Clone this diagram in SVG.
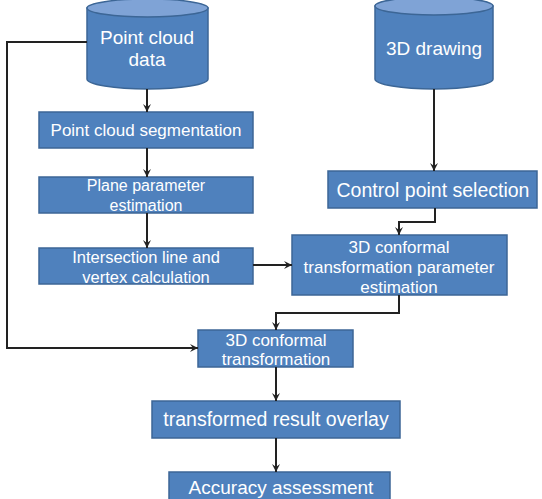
<svg xmlns="http://www.w3.org/2000/svg" width="542" height="499" viewBox="0 0 542 499">
<defs>
<marker id="ah" markerWidth="10" markerHeight="10" refX="9" refY="5" orient="auto" markerUnits="userSpaceOnUse">
<path d="M1,1 L9,5 L1,9 L4,5 Z" fill="#222"/>
</marker>
</defs>
<style>
.box{fill:#4f81bd;stroke:#3c6696;stroke-width:1.5}
.cyl{fill:#4f81bd;stroke:#3c6696;stroke-width:1.5}
.top{fill:#7fa3d6;stroke:#3c6696;stroke-width:1.5}
text{font-family:"Liberation Sans","DejaVu Sans",sans-serif;fill:#fff;text-anchor:middle}
.c{fill:none;stroke:#222;stroke-width:2;marker-end:url(#ah)}
</style>
<rect width="542" height="499" fill="#fff"/>
<g id="pcd">
<path class="cyl" d="M87,8 L87,79 A60.5,10 0 0 0 208,79 L208,8 Z"/>
<ellipse class="top" cx="147.5" cy="8" rx="60.5" ry="9"/>
<text x="147" y="44" font-size="19">Point cloud</text>
<text x="147" y="66" font-size="19">data</text>
</g>
<g id="drawing">
<path class="cyl" d="M375,6 L375,79 A59,10 0 0 0 493,79 L493,6 Z"/>
<ellipse class="top" cx="434" cy="6" rx="59" ry="9"/>
<text x="434" y="55" font-size="19">3D drawing</text>
</g>
<g id="seg">
<rect class="box" x="39" y="112" width="214" height="36"/>
<text x="146" y="136" font-size="17">Point cloud segmentation</text>
</g>
<g id="plane">
<rect class="box" x="39" y="177" width="214" height="36"/>
<text x="146" y="191" font-size="16">Plane parameter</text>
<text x="146" y="211" font-size="16">estimation</text>
</g>
<g id="inter">
<rect class="box" x="39" y="248" width="214" height="36"/>
<text x="146" y="263" font-size="16.5">Intersection line and</text>
<text x="146" y="283" font-size="16.5">vertex calculation</text>
</g>
<g id="cps">
<rect class="box" x="328" y="171" width="209" height="37"/>
<text x="433" y="197" font-size="19.5">Control point selection</text>
</g>
<g id="param">
<rect class="box" x="292" y="235" width="215" height="60"/>
<text x="399" y="253" font-size="17">3D conformal</text>
<text x="399" y="273" font-size="17">transformation parameter</text>
<text x="399" y="293" font-size="17">estimation</text>
</g>
<g id="conf">
<rect class="box" x="198" y="330" width="155" height="37"/>
<text x="276" y="346" font-size="17">3D conformal</text>
<text x="276" y="365" font-size="17">transformation</text>
</g>
<g id="overlay">
<rect class="box" x="152" y="401" width="248" height="37"/>
<text x="276" y="426" font-size="19.5">transformed result overlay</text>
</g>
<g id="acc">
<rect class="box" x="169" y="472" width="221" height="36"/>
<text x="281" y="494" font-size="19">Accuracy assessment</text>
</g>
<g id="connectors">
<path class="c" d="M147,89 L147,112"/>
<path class="c" d="M147,148 L147,177"/>
<path class="c" d="M147,213 L147,248"/>
<path class="c" d="M434,89 L434,171"/>
<path class="c" d="M435,208 L435,222 L399,222 L399,235"/>
<path class="c" d="M253,265 L292,265"/>
<path class="c" d="M399,295 L399,313 L276,313 L276,330"/>
<path class="c" d="M87,42 L7,42 L7,348 L198,348"/>
<path class="c" d="M276,367 L276,401"/>
<path class="c" d="M276,438 L276,472"/>
</g>
</svg>
